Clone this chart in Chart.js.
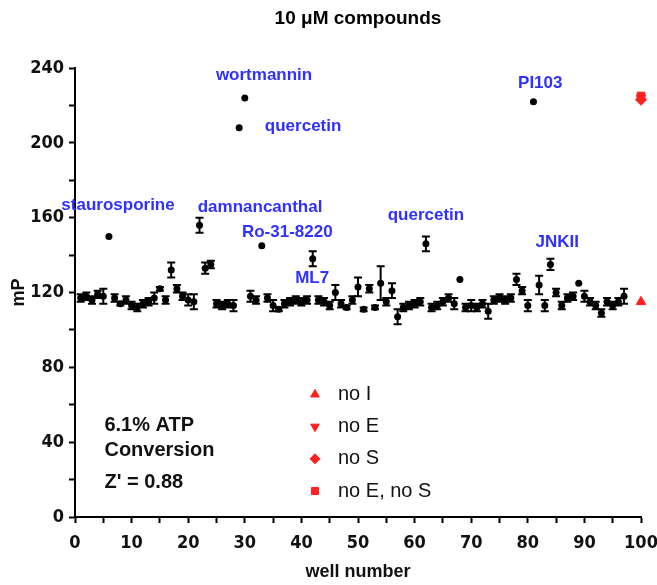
<!DOCTYPE html>
<html lang="en">
  <head>
    <meta charset="UTF-8" />
    <title>10 uM compounds</title>
    <script src="https://cdn.jsdelivr.net/npm/chart.js"></script>
    <style>
      body { margin: 0; background: #fff; }
      .chart-box { width: 657px; height: 585px; }
    </style>
  </head>
  <body>
    <div class="chart-box">
      <canvas id="myChart" width="657" height="585"></canvas>
    </div>
    <script>
      // well numbers 1..97 (compound wells)
      const wells = [
        1, 2, 3, 4, 5, 6, 7, 8, 9, 10, 11, 12, 13, 14, 15, 16, 17, 18, 19, 20,
        21, 22, 23, 24, 25, 26, 27, 28, 29, 30, 31, 32, 33, 34, 35, 36, 37, 38, 39, 40,
        41, 42, 43, 44, 45, 46, 47, 48, 49, 50, 51, 52, 53, 54, 55, 56, 57, 58, 59, 60,
        61, 62, 63, 64, 65, 66, 67, 68, 69, 70, 71, 72, 73, 74, 75, 76, 77, 78, 79, 80,
        81, 82, 83, 84, 85, 86, 87, 88, 89, 90, 91, 92, 93, 94, 95, 96, 97,
      ];
      // mP per well
      const mP = [
        117, 118, 116, 119, 118, 150, 117, 114, 116, 113, 112, 114, 115, 117, 122, 116, 132, 122, 118, 116,
        115, 156, 133, 135, 114, 113, 114, 113, 208, 224, 118, 116, 145, 117, 113, 111, 114, 115, 116, 115,
        116, 138, 116, 115, 113, 120, 114, 112, 116, 123, 111, 122, 112, 125, 115, 121, 107, 112, 113, 114,
        115, 146, 112, 113, 115, 117, 114, 127, 112, 113, 112, 114, 110, 116, 117, 116, 117, 127, 121, 113,
        222, 124, 113, 135, 120, 113, 117, 118, 125, 118, 115, 113, 109, 115, 113, 115, 118,
      ];
      // +/- error (mP)
      const mPErr = [
        2, 2, 2, 2, 4, 0, 2, 1, 2, 2, 2, 2, 2, 3, 1, 2, 4, 2, 2, 3,
        4, 4, 3, 2, 2, 2, 2, 3, 0, 0, 3, 2, 0, 2, 3, 1, 2, 2, 2, 2,
        2, 4, 2, 2, 2, 4, 2, 1, 2, 5, 1, 2, 1, 9, 2, 4, 4, 2, 2, 2,
        2, 4, 2, 2, 2, 2, 3, 0, 2, 3, 2, 2, 4, 2, 2, 2, 2, 3, 2, 3,
        0, 5, 3, 3, 2, 2, 2, 2, 0, 3, 2, 2, 2, 2, 2, 2, 4,
      ];

      // control wells
      const controlNames = ["no I", "no E", "no S", "no E, no S"];
      const controlWell = [100, 100, 100, 100];
      const controlMP = [115, 224, 223, 225];
      const controlStyles = ["triangle", "triangle", "rectRot", "rect"];
      const controlRot = [0, 180, 0, 0];

      // compound labels (placed in data coordinates)
      const hitNames = ["staurosporine", "damnancanthal", "wortmannin", "quercetin", "Ro-31-8220", "ML7", "quercetin", "PI103", "JNKII"];
      const hitX = [7.6, 32.7, 33.4, 40.3, 37.5, 41.9, 62, 82.2, 85.2];
      const hitY = [166.4, 165.3, 236.3, 209, 152, 127.5, 161, 232, 146.7];

      const noteLines = ["6.1% ATP", "Conversion", "Z' = 0.88"];
      const noteY = [49, 35.5, 18.5];

      const RED = "#ff2020";
      const BLUE = "#3030ff";
      const tickFont = { family: '"Liberation Sans Narrow", "DejaVu Sans Condensed", sans-serif', size: 18, weight: "bold" };

      const errorBars = {
        id: "errorBars",
        afterDatasetsDraw(chart) {
          const c = chart.ctx;
          const xs = chart.scales.x;
          const ys = chart.scales.y;
          c.save();
          c.strokeStyle = "#000";
          c.lineWidth = 2;
          wells.forEach(function (w, i) {
            const e = mPErr[i];
            if (!e) return;
            const px = xs.getPixelForValue(w);
            const top = ys.getPixelForValue(mP[i] + e);
            const bot = ys.getPixelForValue(mP[i] - e);
            c.beginPath();
            c.moveTo(px, top);
            c.lineTo(px, bot);
            c.moveTo(px - 4, top);
            c.lineTo(px + 4, top);
            c.moveTo(px - 4, bot);
            c.lineTo(px + 4, bot);
            c.stroke();
          });
          c.restore();
        },
      };

      const texts = {
        id: "texts",
        afterDraw(chart) {
          const c = chart.ctx;
          const xs = chart.scales.x;
          const ys = chart.scales.y;
          const area = chart.chartArea;
          c.save();
          // title
          c.fillStyle = "#000";
          c.font = 'bold 19px "Liberation Sans", Arial, sans-serif';
          c.textAlign = "center";
          c.textBaseline = "middle";
          c.fillText("10 \u03bcM compounds", (area.left + area.right) / 2, 19);

          // compound labels
          c.fillStyle = BLUE;
          c.font = 'bold 17px "Liberation Sans", Arial, sans-serif';
          hitNames.forEach(function (n, i) {
            c.fillText(n, xs.getPixelForValue(hitX[i]), ys.getPixelForValue(hitY[i]));
          });

          // note
          c.fillStyle = "#111";
          c.textAlign = "left";
          c.font = 'bold 20px "Liberation Sans", Arial, sans-serif';
          noteLines.forEach(function (t, i) {
            c.fillText(t, xs.getPixelForValue(5.2), ys.getPixelForValue(noteY[i]));
          });

          // legend
          c.font = '20px "Liberation Sans", Arial, sans-serif';
          controlNames.forEach(function (n, i) {
            const y = ys.getPixelForValue(65.5 - i * 17.2);
            const x = xs.getPixelForValue(42.4);
            c.fillStyle = RED;
            c.strokeStyle = RED;
            Chart.helpers.drawPoint(c, { pointStyle: controlStyles[i], rotation: controlRot[i], radius: 5, borderWidth: 1 }, x, y);
            c.fillStyle = "#111";
            c.fillText(n, x + 23, y);
          });
          c.restore();
        },
      };

      const ctx = document.getElementById("myChart");
      const myChart = new Chart(ctx, {
        type: "scatter",
        data: {
          datasets: [
            {
              label: "compounds",
              data: wells.map(function (w, i) { return { x: w, y: mP[i] }; }),
              pointStyle: "circle",
              pointRadius: 3.5,
              backgroundColor: "#000",
              borderColor: "#000",
              borderWidth: 0,
              clip: false,
            },
          ].concat(
            controlNames.map(function (n, i) {
              return {
                label: n,
                data: [{ x: controlWell[i], y: controlMP[i] }],
                pointStyle: controlStyles[i],
                rotation: controlRot[i],
                pointRadius: 5.5,
                backgroundColor: RED,
                borderColor: RED,
                borderWidth: 1,
                clip: false,
              };
            })
          ),
        },
        options: {
          responsive: false,
          animation: false,
          layout: { padding: { top: 68, right: 16, left: 0, bottom: 0 } },
          plugins: {
            legend: { display: false },
            tooltip: { enabled: false },
          },
          scales: {
            x: {
              type: "linear",
              min: 0,
              max: 100,
              afterFit: function (s) {
                s.height = 68;
                s.paddingLeft = 0;
                s.paddingRight = 0;
              },
              border: { color: "#000", width: 2 },
              grid: { drawOnChartArea: false, tickLength: 6, tickColor: "#000", tickWidth: 2 },
              ticks: {
                stepSize: 5,
                autoSkip: false,
                maxRotation: 0,
                padding: 10,
                color: "#111",
                font: tickFont,
                callback: function (v) { return v % 10 === 0 ? v : ""; },
              },
              title: {
                display: true,
                text: "well number",
                color: "#111",
                padding: { top: 0, bottom: 2 },
                font: { family: '"Liberation Sans", Arial, sans-serif', size: 18, weight: "bold" },
              },
            },
            y: {
              min: 0,
              max: 240,
              afterFit: function (s) { s.width = 75; },
              border: { color: "#000", width: 2 },
              grid: { drawOnChartArea: false, tickLength: 6, tickColor: "#000", tickWidth: 2 },
              ticks: {
                stepSize: 20,
                autoSkip: false,
                padding: 5,
                color: "#111",
                font: tickFont,
                callback: function (v) { return v % 40 === 0 ? v : ""; },
              },
              title: {
                display: true,
                text: "mP",
                color: "#111",
                padding: { top: 8, bottom: 0 },
                font: { family: '"Liberation Sans", Arial, sans-serif', size: 18, weight: "bold" },
              },
            },
          },
        },
        plugins: [errorBars, texts],
      });
    </script>
  </body>
</html>
